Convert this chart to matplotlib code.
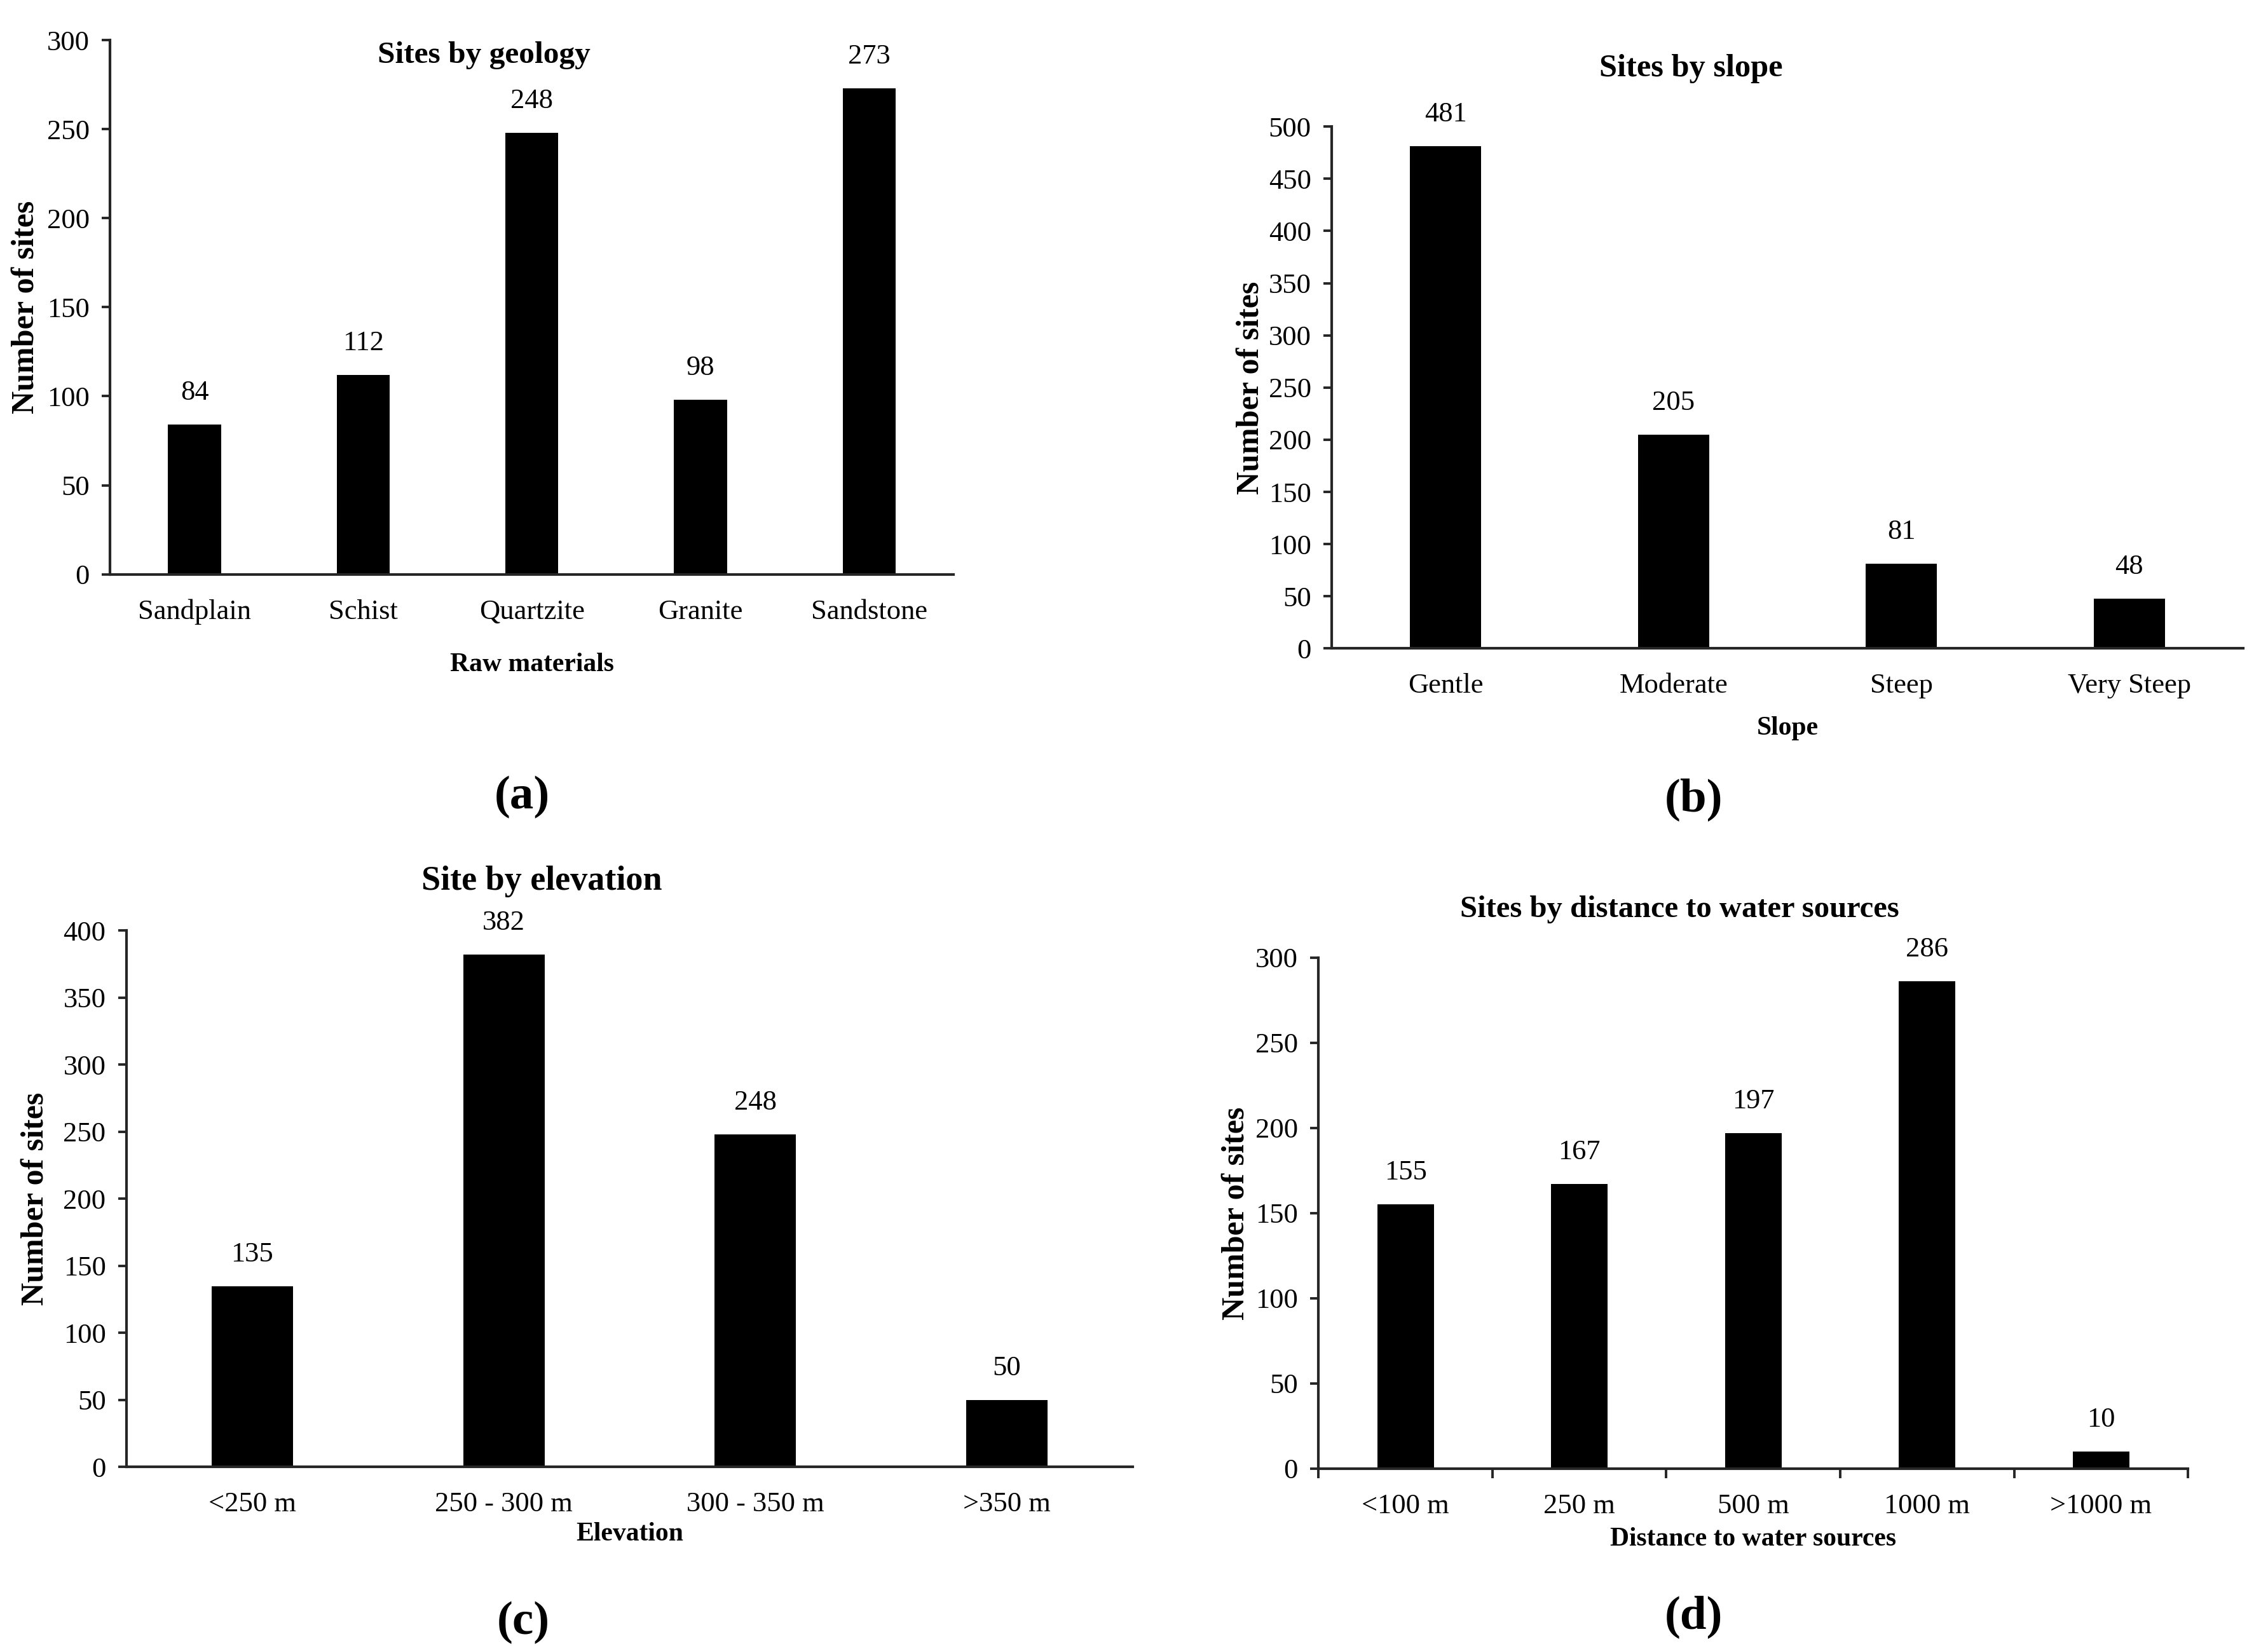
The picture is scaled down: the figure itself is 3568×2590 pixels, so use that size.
import matplotlib
matplotlib.use("Agg")
import matplotlib.pyplot as plt
from matplotlib.ticker import FixedLocator, MultipleLocator

plt.rcParams["font.family"] = ["Liberation Serif", "DejaVu Serif"]

# ---------------------------------------------------------------------------
# data
# ---------------------------------------------------------------------------
geology_labels = ["Sandplain", "Schist", "Quartzite", "Granite", "Sandstone"]
geology_counts = [84, 112, 248, 98, 273]

slope_labels = ["Gentle", "Moderate", "Steep", "Very Steep"]
slope_counts = [481, 205, 81, 48]

elevation_labels = ["<250 m", "250 - 300 m", "300 - 350 m", ">350 m"]
elevation_counts = [135, 382, 248, 50]

water_labels = ["<100 m", "250 m", "500 m", "1000 m", ">1000 m"]
water_counts = [155, 167, 197, 286, 10]

AXIS_COL = "#262626"
TICK_FS = 16

panels = [
    dict(rect=[0.0486, 0.6511, 0.3718, 0.3245], labels=geology_labels,
         counts=geology_counts, ymax=300, title="Sites by geology",
         title_xy=(0.443, 0.972), title_fs=17.8, xlabel="Raw materials",
         xlabel_y=-0.169, ylabel_x=-0.100, width=0.315, bticks=False,
         letter="(a)", letter_xy=(359 / 1560, 1 - 548 / 1132)),
    dict(rect=[0.5872, 0.6060, 0.4019, 0.3171], labels=slope_labels,
         counts=slope_counts, ymax=500, title="Sites by slope",
         title_xy=(0.394, 1.111), title_fs=18.2, xlabel="Slope",
         xlabel_y=-0.153, ylabel_x=-0.089, width=0.313, bticks=False,
         letter="(b)", letter_xy=(1165 / 1560, 1 - 550 / 1132)),
    dict(rect=[0.0558, 0.1087, 0.4436, 0.3260], labels=elevation_labels,
         counts=elevation_counts, ymax=400, title="Site by elevation",
         title_xy=(0.413, 1.091), title_fs=19.5, xlabel="Elevation",
         xlabel_y=-0.125, ylabel_x=-0.091, width=0.324, bticks=False,
         letter="(c)", letter_xy=(360 / 1560, 1 - 1116 / 1132)),
    dict(rect=[0.5814, 0.1078, 0.3833, 0.3104], labels=water_labels,
         counts=water_counts, ymax=300, title="Sites by distance to water sources",
         title_xy=(0.415, 1.094), title_fs=17.5,
         xlabel="Distance to water sources",
         xlabel_y=-0.138, ylabel_x=-0.095, width=0.324, bticks=True,
         letter="(d)", letter_xy=(1165 / 1560, 1 - 1112 / 1132)),
]

fig = plt.figure(figsize=(17.84, 12.95), dpi=200)

for p in panels:
    ax = fig.add_axes(p["rect"])
    x = list(range(len(p["labels"])))
    ax.bar(x, p["counts"], width=p["width"], color="black", zorder=2)
    ax.set_xlim(-0.5, len(x) - 0.5)
    ax.set_ylim(0, p["ymax"])
    ax.yaxis.set_major_locator(MultipleLocator(50))

    for side in ("top", "right"):
        ax.spines[side].set_visible(False)
    for side in ("left", "bottom"):
        ax.spines[side].set_color(AXIS_COL)
        ax.spines[side].set_linewidth(1.5)

    ax.set_xticks(x)
    ax.set_xticklabels(p["labels"])
    ax.tick_params(axis="x", length=0, pad=14, labelsize=TICK_FS, colors="black")
    ax.tick_params(axis="y", length=4.7, width=1.4, color=AXIS_COL, pad=7,
                   labelsize=TICK_FS, labelcolor="black", direction="out")
    if p["bticks"]:
        # category separators on the x axis (panel d only)
        ax.xaxis.set_minor_locator(
            FixedLocator([i - 0.5 for i in range(len(x) + 1)]))
        ax.tick_params(axis="x", which="minor", length=5.5, width=1.4,
                       color=AXIS_COL, direction="out")

    for xi, v in zip(x, p["counts"]):
        ax.annotate(str(v), (xi, v), xytext=(0, 18), textcoords="offset points",
                    ha="center", va="center", fontsize=TICK_FS)

    ax.text(p["title_xy"][0], p["title_xy"][1], p["title"],
            transform=ax.transAxes, ha="center", va="center",
            fontsize=p["title_fs"], fontweight="bold")

    xl = ax.set_xlabel(p["xlabel"], fontsize=15, fontweight="bold")
    xl.set_va("center")
    ax.xaxis.set_label_coords(0.5, p["xlabel_y"])

    yl = ax.set_ylabel("Number of sites", fontsize=18, fontweight="bold")
    yl.set_va("center")
    ax.yaxis.set_label_coords(p["ylabel_x"], 0.5)

    fig.text(p["letter_xy"][0], p["letter_xy"][1], p["letter"],
             ha="center", va="center", fontsize=27, fontweight="bold")

fig.savefig("out.png", dpi=200, facecolor="white")
